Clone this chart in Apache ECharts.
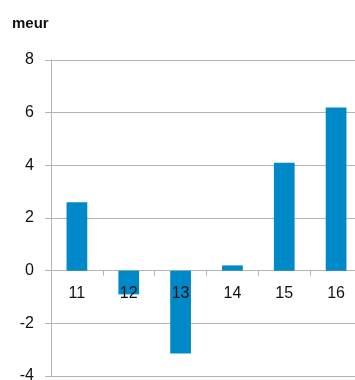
<!DOCTYPE html>
<html>
<head>
<meta charset="utf-8">
<script src="https://cdn.jsdelivr.net/npm/echarts@6/dist/echarts.min.js"></script>
<style>
  html, body { margin: 0; padding: 0; background: #fff; }
  #chart { width: 355px; height: 380px; }
</style>
</head>
<body>
<div id="chart"></div>
<script>
// Yearly result, million euro
const years = ['11', '12', '13', '14', '15', '16'];
const values = [2.6, -0.9, -3.15, 0.2, 4.1, 6.2];
const yTicks = { min: -4, max: 8, step: 2 };
const unitLabel = 'meur';

const grey = '#b4b4b4';
const font = 'Liberation Sans, Arial, sans-serif';
const chart = echarts.init(document.getElementById('chart'), null, { renderer: 'canvas' });

function buildOption(labelOffset) {
  return {
    animation: false,
    textStyle: { fontFamily: font },
    title: {
      text: unitLabel,
      left: 7,
      top: 11,
      textStyle: { fontSize: 15, fontWeight: 'bold', color: '#111', fontFamily: font }
    },
    grid: { left: 51, top: 60, width: 311, height: 316, containLabel: false, outerBoundsMode: 'none' },
    xAxis: [{
      // axis line and ticks sitting on the zero line
      type: 'category',
      data: years,
      axisLine: { show: true, onZero: true, lineStyle: { color: grey, width: 1 } },
      axisTick: { show: true, length: 5, alignWithLabel: false, lineStyle: { color: grey } },
      axisLabel: { show: false },
      splitLine: { show: false }
    }, {
      // year labels, lifted up to just below the zero line, drawn over the bars
      type: 'category',
      data: years,
      position: 'bottom',
      offset: labelOffset,
      z: 10,
      axisLine: { show: false, onZero: false },
      axisTick: { show: false },
      axisLabel: { fontSize: 16, color: '#111', margin: 15 },
      splitLine: { show: false }
    }],
    yAxis: {
      type: 'value',
      min: yTicks.min,
      max: yTicks.max,
      interval: yTicks.step,
      axisLine: { show: true, lineStyle: { color: grey, width: 1 } },
      axisTick: { show: true, length: 6, lineStyle: { color: grey } },
      axisLabel: { fontSize: 16, color: '#111', margin: 17 },
      splitLine: { show: true, lineStyle: { color: grey, width: 1 } }
    },
    series: [{
      type: 'bar',
      data: values,
      barWidth: '40%',
      z: 2,
      itemStyle: { color: '#0089c9' }
    }]
  };
}

chart.setOption(buildOption(0));
// distance between the plot's bottom edge and the zero line, from the value scale
const zeroPx = chart.convertToPixel({ yAxisIndex: 0 }, 0);
const bottomPx = chart.convertToPixel({ yAxisIndex: 0 }, yTicks.min);
chart.setOption(buildOption(-(bottomPx - zeroPx)));
</script>
</body>
</html>
